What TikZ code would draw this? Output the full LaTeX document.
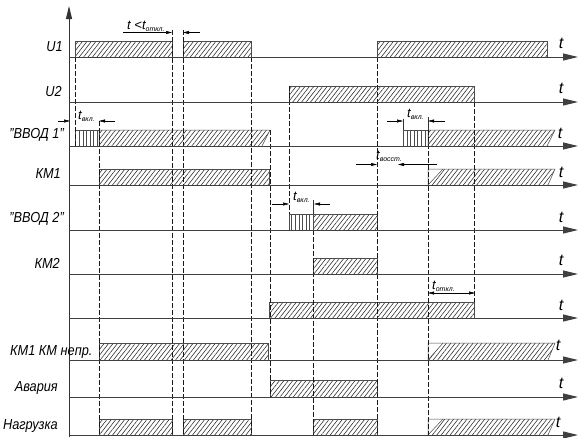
\documentclass[tikz,border=0pt]{standalone}
\usepackage{fontspec}
\setmainfont{Liberation Sans}
\usetikzlibrary{patterns.meta,arrows.meta}
\newcommand{\tsub}[2]{#1{\fontsize{7}{8}\selectfont\raisebox{-2.5pt}{#2}}}
\begin{document}
\begin{tikzpicture}[x=1pt,y=-1pt,
  lbl/.style={font=\fontsize{14.5}{16}\selectfont\addfontfeature{FakeStretch=0.88}\itshape, inner sep=0pt},
  tlbl/.style={font=\fontsize{16}{18}\selectfont\itshape, inner sep=0pt},
  dlbl/.style={font=\fontsize{13}{15}\selectfont\itshape, inner sep=0pt, anchor=base west},
  baseln/.style={draw=black!75, line width=0.9pt, -{Triangle[length=15pt,width=7pt]}},
  hatch/.style={pattern={Lines[angle=52,distance=3.5pt,line width=0.55pt]}, pattern color=black!85},
  stripes/.style={pattern={Lines[angle=90,distance=3.6pt,line width=0.45pt]}, pattern color=black!70},
  barline/.style={draw=black!70, line width=0.5pt},
  guide/.style={draw=black!90, dash pattern=on 5pt off 2pt, line width=0.6pt},
  tick/.style={draw=black!80, line width=0.5pt},
  dim/.style={draw=black, line width=0.5pt, -{Triangle[length=6pt,width=3pt]}},
]
\useasboundingbox (0,0) rectangle (578,437);
\fill[white] (0,0) rectangle (578,437);

% ---------- rectangular hatched bars: x0,x1,top,base
\foreach \xa/\xb/\yt/\yb in {
  75/172/41/57, 183/251/41/57, 377/547/41/57,
  289/474/86/102,
  99/269/169/185,
  313/377/214/230,
  313/377/258/274,
  269/474/302/318,
  99/268/343/360,
  270/377/380/397,
  99/172/419/435, 183/251/419/435, 313/377/419/435}{
  \path[hatch] (\xa,\yt) rectangle (\xb,\yb);
  \draw[barline] (\xa,\yb) -- (\xa,\yt) -- (\xb,\yt) -- (\xb,\yb);
}
% ---------- bars with slanted right end
\foreach \xa/\xb/\yt/\yb in {99/270/130/146, 428/555/130/146}{
  \path[hatch] (\xa,\yb) -- (\xa,\yt) -- (\xb,\yt) -- (\xb-8,\yb) -- cycle;
  \draw[barline] (\xa,\yb) -- (\xa,\yt) -- (\xb,\yt) -- (\xb-8,\yb);
}
% ---------- bars with slanted start and end
\foreach \yt/\yb in {169/185, 343/360, 419/435}{
  \path[hatch] (428,\yb) -- (443,\yt) -- (555,\yt) -- (548,\yb) -- cycle;
  \draw[barline] (428,\yb) -- (428,\yt) -- (555,\yt) -- (548,\yb);
  \draw[barline] (428,\yb) -- (443,\yt);
}
% ---------- striped (switching) blocks
\foreach \xa/\xb/\yt/\yb in {75/99/130/146, 403/428/130/146, 289/313/214/230}{
  \path[stripes] (\xa,\yt) rectangle (\xb,\yb);
  \draw[barline] (\xa,\yb) -- (\xa,\yt) -- (\xb,\yt) -- (\xb,\yb);
}

% ---------- dashed guide lines
\draw[guide] (75,57) -- (75,146);
\draw[guide] (99,121) -- (99,435);
\draw[guide] (172,30) -- (172,435);
\draw[guide] (183,30) -- (183,435);
\draw[guide] (251,57) -- (251,435);
\draw[guide] (270,130) -- (270,397);
\draw[guide] (289,86) -- (289,214);
\draw[guide] (313,230) -- (313,435);
\draw[guide] (377,57) -- (377,435);
\draw[guide] (428,130) -- (428,435);
\draw[guide] (474,102) -- (474,302);
\draw[tick] (313,200) -- (313,214);
\draw[tick] (403,119) -- (403,130);
\draw[tick] (428,117) -- (428,130);

% ---------- dimension arrows
\draw[dim] (58,121) -- (70,121);
\draw[dim] (115,121) -- (99,121);
\draw[dim] (123,32.5) -- (172,32.5);
\draw[dim] (200,32.5) -- (183,32.5);
\draw[dim] (387,121) -- (403,121);
\draw[dim] (445,121) -- (428,121);
\draw[dim] (356,164.5) -- (377,164.5);
\draw[dim] (437,164.5) -- (398,164.5);
\draw[dim] (272,204) -- (289,204);
\draw[dim] (330,204) -- (314,204);
\draw[dim] (440,293) -- (428,293);
\draw[dim] (440,293) -- (475,293);

\node[dlbl] (d1) at (78,119) {\tsub{t}{вкл.}};
\node[dlbl] (d2) at (127,29) {\tsub{t <t}{откл.}};
\node[dlbl] (d3) at (407,117) {\tsub{t}{вкл.}};
\node[dlbl] (d4) at (376,159) {\tsub{t}{восст.}};
\node[dlbl] (d5) at (293,200) {\tsub{t}{вкл.}};
\node[dlbl] (d6) at (432,289) {\tsub{t}{откл.}};

% ---------- axes
\draw[draw=black!80, line width=0.9pt, -{Triangle[length=13pt,width=6pt]}] (69,437) -- (69,6);
\foreach \yb in {57,102,146,185,230,274,318,360,397,435}{
  \draw[baseln] (69,\yb) -- (578,\yb);
}

% ---------- t labels
\node[tlbl] (t1) at (561,43) {t};
\node[tlbl] (t2) at (561,88) {t};
\node[tlbl] (t3) at (560,133) {t};
\node[tlbl] (t4) at (561,172) {t};
\node[tlbl] (t5) at (561,217) {t};
\node[tlbl] (t6) at (561,260) {t};
\node[tlbl] (t7) at (561,305) {t};
\node[tlbl] (t8) at (558,345) {t};
\node[tlbl] (t9) at (561,383) {t};
\node[tlbl] (t10) at (558,422) {t};

% ---------- row labels
\node[lbl, anchor=east] (lU1) at (63,47) {U1};
\node[lbl, anchor=east] (lU2) at (62,92) {U2};
\node[lbl, anchor=east] (lV1) at (64,135) {"ВВОД 1"};
\node[lbl, anchor=east] (lK1) at (61,174) {КМ1};
\node[lbl, anchor=east] (lV2) at (64,219) {"ВВОД 2"};
\node[lbl, anchor=east] (lK2) at (60,263) {КМ2};
\node[lbl, anchor=west] (lKn) at (10,352) {КМ1 КМ непр.};
\node[lbl, anchor=east] (lAv) at (58,388) {Авария};
\node[lbl, anchor=east] (lNg) at (58,426) {Нагрузка};
\end{tikzpicture}
\end{document}
